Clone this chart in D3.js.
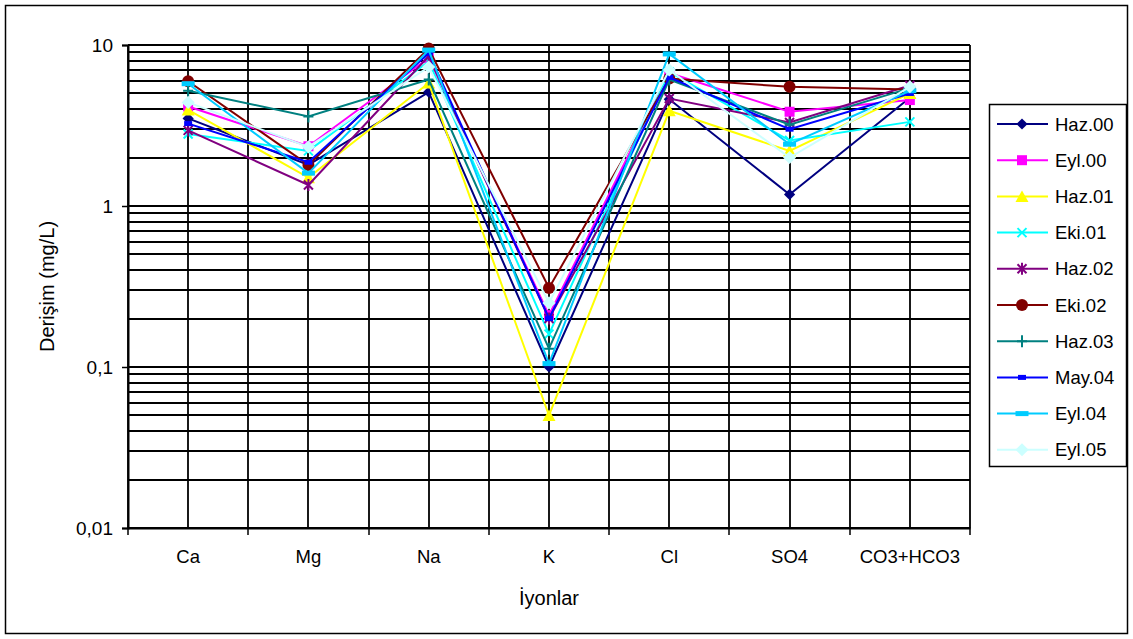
<!DOCTYPE html>
<html>
<head>
<meta charset="utf-8">
<script src="https://cdn.jsdelivr.net/npm/d3@7/dist/d3.min.js"></script>
<style>
  html, body { margin: 0; padding: 0; background: #fff; }
  svg { display: block; font-family: "Liberation Sans", Arial, sans-serif; }
</style>
</head>
<body>
<svg id="chart" width="1133" height="639"></svg>
<script>
// Ion categories (x axis)
const categories = ["Ca", "Mg", "Na", "K", "Cl", "SO4", "CO3+HCO3"];

// Sampling campaigns (series)
const seriesNames = ["Haz.00", "Eyl.00", "Haz.01", "Eki.01", "Haz.02", "Eki.02", "Haz.03", "May.04", "Eyl.04", "Eyl.05"];

// Concentrations (mg/L), one array per campaign, in category order
const haz00 = [3.5, 1.8, 5.1, 0.1, 4.6, 1.18, 4.7];
const eyl00 = [4.15, 2.35, 8.3, 0.21, 6.7, 3.85, 4.55];
const haz01 = [3.95, 1.5, 5.8, 0.05, 3.9, 2.2, 5.0];
const eki01 = [2.8, 2.2, 7.9, 0.16, 6.8, 2.55, 3.33];
const haz02 = [2.95, 1.35, 8.5, 0.2, 4.65, 3.3, 5.6];
const eki02 = [5.95, 1.8, 9.5, 0.31, 6.2, 5.5, 5.3];
const haz03 = [5.2, 3.6, 6.1, 0.13, 6.1, 3.2, 5.4];
const may04 = [3.25, 1.87, 8.9, 0.2, 6.3, 3.0, 5.0];
const eyl04 = [5.75, 1.6, 9.3, 0.105, 8.8, 2.42, 5.2];
const eyl05 = [4.4, 2.33, 7.3, 0.25, 7.0, 2.0, 5.5];

// Y axis tick labels (decimal comma)
const yTickValues = [10, 1, 0.1, 0.01];
const yTickLabels = ["10", "1", "0,1", "0,01"];

const seriesValues = [haz00, eyl00, haz01, eki01, haz02, eki02, haz03, may04, eyl04, eyl05];
const seriesColors = ["#000080", "#FF00FF", "#FFFF00", "#00FFFF", "#800080", "#800000", "#008080", "#0000FF", "#00CCFF", "#CCFFFF"];
const seriesMarkers = ["diamond", "square", "triangle", "x", "asterisk", "circle", "plus", "dash", "wideDash", "diamondBig"];

const series = seriesNames.map((name, i) => ({
  name, values: seriesValues[i], color: seriesColors[i], marker: seriesMarkers[i]
}));

const FONT = "Liberation Sans, Arial, sans-serif";
const svg = d3.select("#chart");

// Outer frame
svg.append("rect")
  .attr("x", 5.5).attr("y", 5.5).attr("width", 1122).attr("height", 628)
  .attr("fill", "#fff").attr("stroke", "#000").attr("stroke-width", 1.5);

const plot = { left: 128, right: 970, top: 45, bottom: 528 };

const x = d3.scaleBand().domain(categories).range([plot.left, plot.right]).paddingInner(0).paddingOuter(0);
const y = d3.scaleLog().domain([0.01, 10]).range([plot.bottom, plot.top]);

const g = svg.append("g");

// Horizontal grid: every 1..9 x 10^k
const gridVals = [];
[0.01, 0.1, 1].forEach(dec => { for (let m = 1; m <= 9; m++) gridVals.push(+(dec * m).toPrecision(3)); });
gridVals.push(10);

g.append("g").selectAll("line").data(gridVals).join("line")
  .attr("x1", plot.left).attr("x2", plot.right)
  .attr("y1", d => Math.round(y(d))).attr("y2", d => Math.round(y(d)))
  .attr("stroke", "#000").attr("stroke-width", 1.8);

// Vertical grid: category centres and boundaries
const bounds = categories.map(c => x(c)).concat([plot.right]);
const centres = categories.map(c => x(c) + x.bandwidth() / 2);
g.append("g").selectAll("line").data(bounds.concat(centres)).join("line")
  .attr("x1", d => Math.round(d)).attr("x2", d => Math.round(d))
  .attr("y1", plot.top).attr("y2", plot.bottom)
  .attr("stroke", "#000").attr("stroke-width", 1.8);

// Y axis
const yAxis = d3.axisLeft(y).tickValues(yTickValues)
  .tickFormat((d, i) => yTickLabels[i]).tickSize(6).tickPadding(9);
const yg = svg.append("g").attr("transform", `translate(${plot.left},0)`).call(yAxis);
yg.attr("font-size", null).attr("font-family", null);
yg.select(".domain").attr("stroke", "#000").attr("stroke-width", 2);
yg.selectAll(".tick line").attr("stroke", "#000").attr("stroke-width", 1.5);
yg.selectAll(".tick text").style("font-size", "19px").attr("fill", "#000").style("font-family", FONT);

// X axis with ticks at category boundaries
const xAxis = d3.axisBottom(x).tickSize(0).tickPadding(22);
const xg = svg.append("g").attr("transform", `translate(0,${plot.bottom})`).call(xAxis);
xg.attr("font-size", null).attr("font-family", null);
xg.select(".domain").attr("stroke", "#000").attr("stroke-width", 2);
xg.selectAll(".tick text").style("font-size", "18.5px").attr("fill", "#000").style("font-family", FONT);
xg.append("g").selectAll("line").data(bounds).join("line")
  .attr("x1", d => Math.round(d)).attr("x2", d => Math.round(d))
  .attr("y1", 0).attr("y2", 7).attr("stroke", "#000").attr("stroke-width", 1.5);

// Axis titles
svg.append("text")
  .attr("x", (plot.left + plot.right) / 2).attr("y", 605)
  .attr("text-anchor", "middle").style("font-size", "20px").text("İyonlar");
svg.append("text")
  .attr("transform", `translate(54,${(plot.top + plot.bottom) / 2}) rotate(-90)`)
  .attr("text-anchor", "middle").style("font-size", "20px").text("Derişim (mg/L)");

// Marker drawing
function drawMarker(sel, type, color) {
  switch (type) {
    case "diamond":
      sel.append("path").attr("d", d3.symbol(d3.symbolDiamond2, 80)()).attr("fill", color);
      break;
    case "diamondBig":
      sel.append("path").attr("d", d3.symbol(d3.symbolDiamond2, 110)()).attr("fill", color);
      break;
    case "square":
      sel.append("rect").attr("x", -5).attr("y", -5).attr("width", 10).attr("height", 10).attr("fill", color);
      break;
    case "triangle":
      sel.append("path").attr("d", "M0,-6L6.5,5.5L-6.5,5.5Z").attr("fill", color);
      break;
    case "x":
      sel.append("path").attr("d", "M-4.5,-4.5L4.5,4.5M-4.5,4.5L4.5,-4.5")
        .attr("stroke", color).attr("stroke-width", 2).attr("fill", "none");
      break;
    case "asterisk":
      sel.append("path").attr("d", "M-4.5,-4.5L4.5,4.5M-4.5,4.5L4.5,-4.5M0,-6L0,6")
        .attr("stroke", color).attr("stroke-width", 2).attr("fill", "none");
      break;
    case "circle":
      sel.append("circle").attr("r", 6).attr("fill", color);
      break;
    case "plus":
      sel.append("path").attr("d", "M-5,0L5,0M0,-6L0,6")
        .attr("stroke", color).attr("stroke-width", 2).attr("fill", "none");
      break;
    case "dash":
      sel.append("rect").attr("x", -4).attr("y", -2.5).attr("width", 8).attr("height", 5).attr("fill", color);
      break;
    case "wideDash":
      sel.append("rect").attr("x", -6.5).attr("y", -2.5).attr("width", 13).attr("height", 5).attr("fill", color);
      break;
  }
}

// Series lines and markers
const line = d3.line()
  .x((d, i) => x(categories[i]) + x.bandwidth() / 2)
  .y(d => y(d));

series.forEach(s => {
  const sg = svg.append("g");
  sg.append("path").attr("d", line(s.values))
    .attr("fill", "none").attr("stroke", s.color).attr("stroke-width", 2);
  s.values.forEach((v, i) => {
    const mg = sg.append("g")
      .attr("transform", `translate(${x(categories[i]) + x.bandwidth() / 2},${y(v)})`);
    drawMarker(mg, s.marker, s.color);
  });
});

// Legend
const legend = svg.append("g");
legend.append("rect")
  .attr("x", 989.5).attr("y", 104.5).attr("width", 137).attr("height", 362)
  .attr("fill", "#fff").attr("stroke", "#000").attr("stroke-width", 1.5);
series.forEach((s, i) => {
  const ly = 124 + i * 36.2;
  const lg = legend.append("g");
  lg.append("line").attr("x1", 997).attr("x2", 1048).attr("y1", ly).attr("y2", ly)
    .attr("stroke", s.color).attr("stroke-width", 2);
  drawMarker(lg.append("g").attr("transform", `translate(1022,${ly})`), s.marker, s.color);
  lg.append("text").attr("x", 1055).attr("y", ly + 6.5).style("font-size", "18.5px").attr("fill", "#000").text(s.name);
});
</script>
</body>
</html>
